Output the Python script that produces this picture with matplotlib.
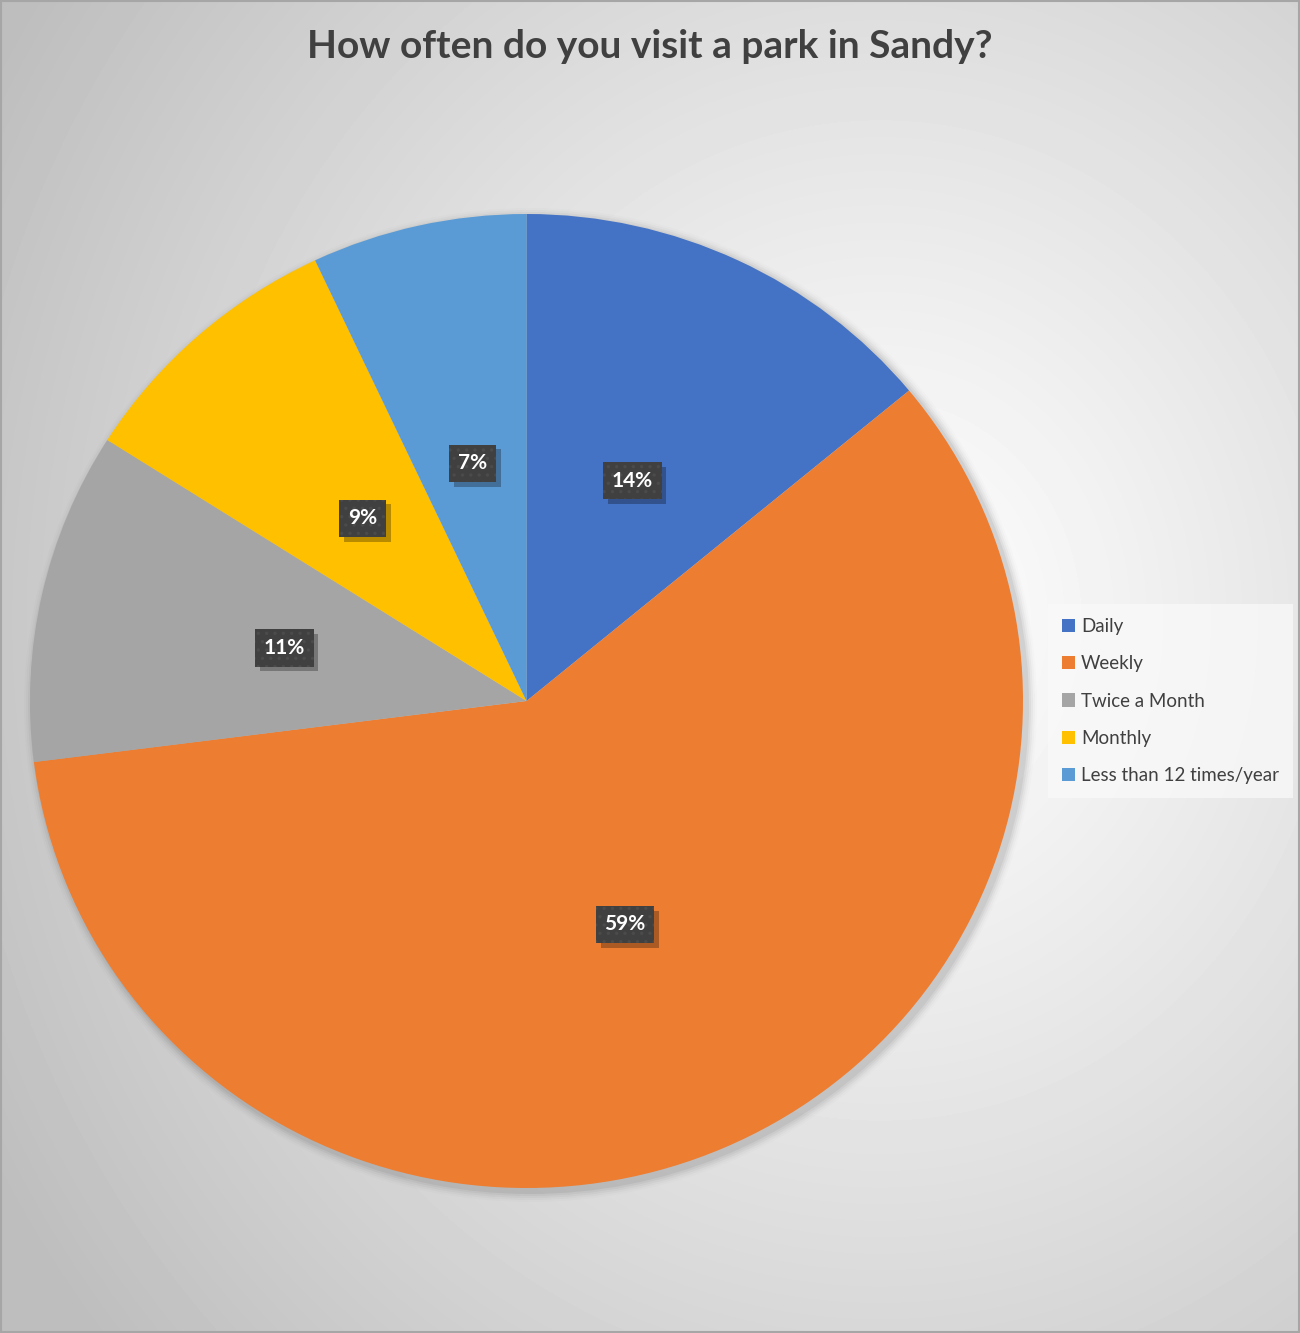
import numpy as np
import matplotlib.pyplot as plt
from matplotlib.patches import Rectangle, Ellipse
from matplotlib import patheffects as pe

plt.rcParams['font.family'] = ['Lato', 'DejaVu Sans']
plt.rcParams['hatch.linewidth'] = 1.2

categories = ['Daily', 'Weekly', 'Twice a Month', 'Monthly', 'Less than 12 times/year']
shares = [14, 59, 11, 9, 7]
colors = ['#4472C4', '#ED7D31', '#A5A5A5', '#FFC000', '#5B9BD5']
title = 'How often do you visit a park in Sandy?'


class FlatShadow(pe.SimplePatchShadow):
    # same as SimplePatchShadow but without the hatch of the box
    def draw_path(self, renderer, gc, tpath, affine, rgbFace):
        gc0 = renderer.new_gc()
        gc0.copy_properties(gc)
        gc0.set_hatch(None)
        super().draw_path(renderer, gc0, tpath, affine, rgbFace)
        gc0.restore()


W, H = 1300, 1333
fig = plt.figure(figsize=(W / 100, H / 100), dpi=100)

# background: soft radial gradient, light on the right of the pie
bg = fig.add_axes([0, 0, 1, 1])
yy, xx = np.mgrid[0:H, 0:W]
d = np.hypot((xx - 880) * 1.1, yy - 620) / 1100
shade = np.clip(255 - 64 * d ** 1.1, 190, 255) / 255
bg.imshow(shade, cmap='gray', vmin=0, vmax=1, extent=(0, W, H, 0), aspect='auto')
bg.set_axis_off()

# pie axes in units of the radius (slightly wider than tall)
cx, cy, rx, ry = 526.5, 701, 496.5, 487
ax = fig.add_axes([0, 0, 1, 1])
ax.set_axis_off()

# faint shadow round the pie
for i, a in enumerate([0.05, 0.04, 0.03, 0.02, 0.012]):
    ax.add_patch(Ellipse((4 / rx, -4 / ry), 2 * (1 + (2 + 2 * i) / rx),
                         2 * (1 + (2 + 2 * i) / ry), color='black', alpha=a, lw=0))

wedges, texts, autotexts = ax.pie(
    shares, colors=colors, startangle=90, counterclock=False,
    autopct=lambda p: f'{p:.0f}%', pctdistance=0.5,
    wedgeprops=dict(linewidth=0),
    textprops=dict(color='white', fontsize=15, fontweight='bold'))

for t in autotexts:
    t.set_bbox(dict(boxstyle='square,pad=0.42', fc='#404040', ec='#4b4b4b', lw=0, hatch='..'))
    t.get_bbox_patch().set_path_effects(
        [FlatShadow(offset=(3.5, -3.5), shadow_rgbFace='black', alpha=0.28), pe.Normal()])

ax.set_xlim(-cx / rx, (W - cx) / rx)
ax.set_ylim(-(H - cy) / ry, cy / ry)
ax.set_aspect('auto')

fig.text(0.5, 1 - 46 / H, title, ha='center', va='center', fontsize=28,
         fontweight='bold', color='#404040')

leg = fig.legend(wedges, categories, loc='upper left', bbox_to_anchor=(1048 / W, 1 - 604 / H),
                 frameon=True, fontsize=13.5, labelcolor='#404040', handlelength=0.7,
                 handleheight=0.7, handletextpad=0.3, labelspacing=1.08,
                 borderpad=0.75, borderaxespad=0, fancybox=False)
leg.get_frame().set_facecolor('#FAFAFA')
leg.get_frame().set_alpha(0.7)
leg.get_frame().set_linewidth(0)

fig.patches.append(Rectangle((0.001, 0.001), 0.998, 0.998, transform=fig.transFigure,
                             fill=False, ec='#A6A6A6', lw=1.5))

fig.savefig('out.png', dpi=100)
